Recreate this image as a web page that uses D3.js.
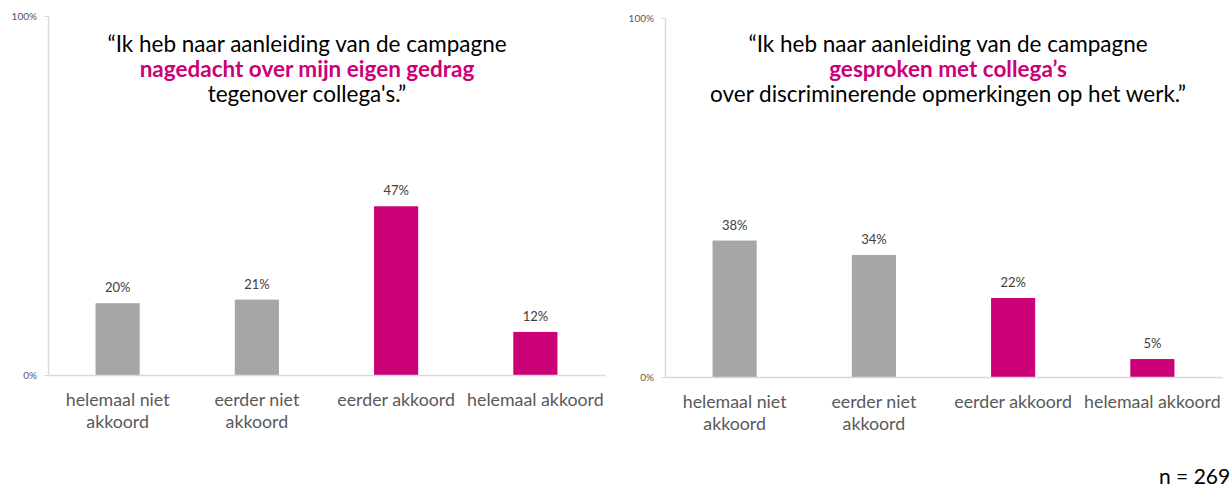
<!DOCTYPE html>
<html lang="nl">
<head>
<meta charset="utf-8">
<title>Campagne</title>
<script src="https://d3js.org/d3.v7.min.js"></script>
<style>
  body { margin: 0; background: #fff; }
  svg { font-family: Lato, "Open Sans", sans-serif; }
</style>
</head>
<body>
<script>
// categories and values
var categories = ["helemaal niet akkoord", "eerder niet akkoord", "eerder akkoord", "helemaal akkoord"];
var categoryLines = [["helemaal niet", "akkoord"], ["eerder niet", "akkoord"], ["eerder akkoord"], ["helemaal akkoord"]];
var agrees = [false, false, true, true];
var valuesGedrag = [20, 21, 47, 12];
var valuesGesproken = [38, 34, 22, 5];
var yTicks = [0, 100];
var titleGedrag = ["\u201cIk heb naar aanleiding van de campagne", "nagedacht over mijn eigen gedrag", "tegenover collega's.\u201d"];
var titleGesproken = ["\u201cIk heb naar aanleiding van de campagne", "gesproken met collega\u2019s", "over discriminerende opmerkingen op het werk.\u201d"];
var sampleNote = "n = 269";

var W = 1231, H = 488;
var grey = "#a6a6a6", magenta = "#cc0077";

var svg = d3.select("body").append("svg")
    .attr("width", W)
    .attr("height", H);

function drawPanel(values, title, x0, x1, yBase, yTop, titleX) {
    var g = svg.append("g");

    var x = d3.scaleBand()
        .domain(categories)
        .range([x0, x1])
        .paddingInner(0.683)
        .paddingOuter(0.683 / 2);

    var y = d3.scaleLinear()
        .domain([0, 100])
        .range([yBase, yTop]);

    // y axis
    var ya = g.append("g")
        .attr("transform", "translate(" + x0 + ",0)")
        .call(d3.axisLeft(y).tickValues(yTicks).tickSizeInner(4).tickSizeOuter(0)
            .tickFormat(function (d) { return d + "%"; }));
    ya.select(".domain").attr("stroke", "#d9d9d9").attr("stroke-width", 1.5);
    ya.selectAll(".tick line").attr("stroke", "#d9d9d9");
    ya.selectAll(".tick text")
        .attr("fill", "#595959")
        .attr("font-size", "10px")
        .attr("font-family", "Lato, sans-serif")
        .attr("dx", "-4");

    // bars
    g.selectAll("rect.bar")
        .data(values)
        .enter()
        .append("rect")
        .attr("class", "bar")
        .attr("x", function (d, i) { return x(categories[i]); })
        .attr("width", x.bandwidth())
        .attr("y", function (d) { return y(d); })
        .attr("height", function (d) { return y(0) - y(d); })
        .attr("fill", function (d, i) { return agrees[i] ? magenta : grey; });

    // value labels
    g.selectAll("text.val")
        .data(values)
        .enter()
        .append("text")
        .attr("class", "val")
        .attr("x", function (d, i) { return x(categories[i]) + x.bandwidth() / 2; })
        .attr("y", function (d) { return y(d) - 11; })
        .attr("text-anchor", "middle")
        .attr("fill", "#404040")
        .attr("font-size", "13px")
        .text(function (d) { return d + "%"; });

    // x axis
    var xa = g.append("g")
        .attr("transform", "translate(0," + yBase + ")")
        .call(d3.axisBottom(x).tickSize(0).tickSizeOuter(0).tickFormat(""));
    xa.select(".domain").attr("stroke", "#d9d9d9").attr("stroke-width", 1.5);

    categoryLines.forEach(function (lines, i) {
        var t = g.append("text")
            .attr("x", x(categories[i]) + x.bandwidth() / 2)
            .attr("y", yBase + 31)
            .attr("text-anchor", "middle")
            .attr("fill", "#595959")
            .attr("font-size", "17.8px");
        lines.forEach(function (l, j) {
            t.append("tspan")
                .attr("x", x(categories[i]) + x.bandwidth() / 2)
                .attr("dy", j === 0 ? 0 : 22)
                .text(l);
        });
    });

    // title
    title.forEach(function (line, j) {
        g.append("text")
            .attr("x", titleX)
            .attr("y", 52 + j * 25)
            .attr("text-anchor", "middle")
            .attr("font-size", "22.5px")
            .attr("font-weight", j === 1 ? "bold" : "normal")
            .attr("fill", j === 1 ? magenta : "#000")
            .text(line);
    });
}

drawPanel(valuesGedrag, titleGedrag, 48, 605, 375, 16, 307);
drawPanel(valuesGesproken, titleGesproken, 665, 1222, 377, 18, 948);

svg.append("text")
    .attr("x", 1159)
    .attr("y", 484)
    .attr("font-size", "21px")
    .attr("fill", "#000")
    .text(sampleNote);
</script>
</body>
</html>
